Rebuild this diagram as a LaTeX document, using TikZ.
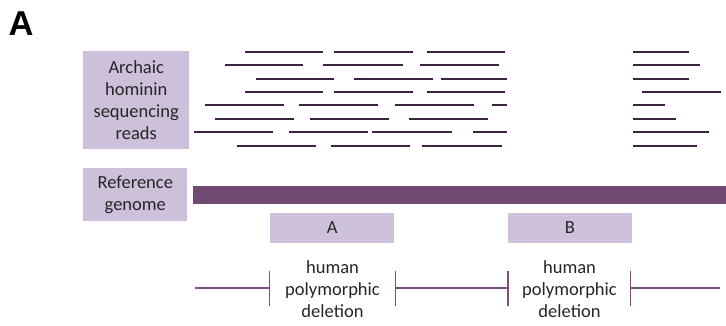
\documentclass[tikz,border=0pt]{standalone}
\usepackage{fontspec}
\setmainfont{Carlito}
\newfontfamily\titlefont{Liberation Sans}
\definecolor{boxfill}{HTML}{CCC0DA}
\definecolor{barcol}{HTML}{714A74}
\definecolor{readcol}{HTML}{3E2244}
\definecolor{tickcol}{HTML}{7A4F80}
\definecolor{txt}{HTML}{262626}
\begin{document}
\begin{tikzpicture}[x=1pt,y=-1pt,
  lbox/.style={fill=boxfill,draw=none,inner sep=0pt,align=center,text=txt,font=\fontsize{18.5}{22}\selectfont},
  readline/.style={readcol,line width=2pt},
  tickline/.style={tickcol,line width=1.6pt},
  lbl/.style={align=center,text=txt,font=\fontsize{18.5}{22}\selectfont,inner sep=0pt}]
\useasboundingbox (0,0) rectangle (726,326);
\node[font=\titlefont\bfseries\fontsize{34.5}{34.5}\selectfont,anchor=base west,inner sep=0pt] (title) at (8.5,36) {A};
% label boxes
\node[lbox,minimum width=105.7pt,minimum height=98.3pt] (arch) at (136.2,99.9) {Archaic\\hominin\\sequencing\\reads};
\node[lbox,minimum width=104pt,minimum height=52.7pt] (ref) at (135.3,194.7) {Reference\\genome};
% reference bar
\fill[barcol] (193.3,185.7) rectangle (726,204.3);
% region boxes
\node[lbox,minimum width=124.3pt,minimum height=29.4pt] (boxA) at (332.2,228) {A};
\node[lbox,minimum width=124.6pt,minimum height=29.4pt] (boxB) at (570,228) {B};
% reads
\foreach \y/\segs in {
 51.7/{245/323.3,334/412.7,426.7/505,632.7/689.3},
 65/{225/303.3,323.3/402.7,420/499,632.7/700},
 79/{256/334.3,354.3/433.3,440.7/507.3,632.7/689.3},
 92.3/{245/323.3,334/412.7,426.7/505,641.7/720.7},
 105.3/{205/284,299.3/378.3,395/474,491.7/507.3,632.7/665.3},
 119/{215/294.3,310/389,409.3/488,632.7/676},
 132.3/{194/273.3,289/368.3,372.3/451.7,472.7/507.3,632.7/709.3},
 146/{236.7/315.7,331/410,422.3/501.7,632.7/696.7}}{
  \foreach \a/\b in \segs {\draw[readline] (\a,\y) -- (\b,\y);}
}
% deletion labels
\node[lbl] (hA) at (332.5,289.5) {human\\polymorphic\\deletion};
\node[lbl] (hB) at (569.5,289.5) {human\\polymorphic\\deletion};
% ticks and lines
\coordinate (s0) at (195,287.7);
\coordinate (t1) at (269.3,287.7);
\coordinate (t2) at (395.5,287.7);
\coordinate (t3) at (507.7,287.7);
\coordinate (t4) at (630.3,287.7);
\coordinate (e0) at (720,287.7);
\foreach \t in {t1,t2,t3,t4}{\draw[tickline] ([yshift=-18.7pt]\t) -- ([yshift=16.7pt]\t);}
\draw[tickline] (s0) -- (t1);
\draw[tickline] (t2) -- (t3);
\draw[tickline] (t4) -- (e0);
\end{tikzpicture}
\end{document}
